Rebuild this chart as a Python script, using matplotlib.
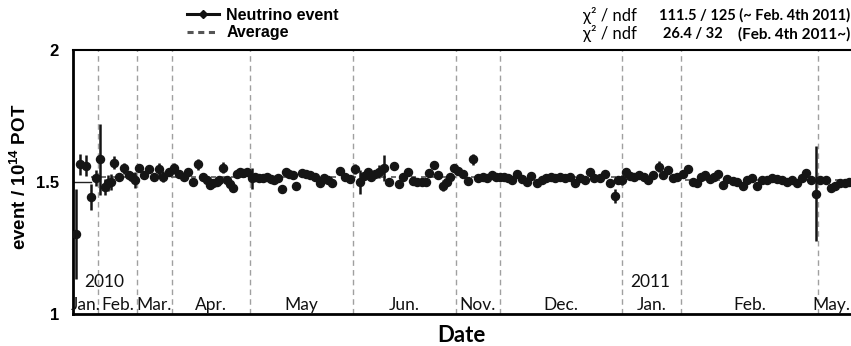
import matplotlib
matplotlib.use('Agg')
import matplotlib.pyplot as plt
from matplotlib.lines import Line2D
from matplotlib.font_manager import FontProperties

plt.rcParams['mathtext.fontset'] = 'custom'
plt.rcParams['mathtext.rm'] = 'Liberation Sans:bold'
plt.rcParams['mathtext.it'] = 'Liberation Sans:bold'
plt.rcParams['mathtext.bf'] = 'Liberation Sans:bold'

# ---- data (x in compressed beam-time units) ----
x = [3, 7, 13, 18, 23, 27, 32, 35, 38, 41,
     46, 51, 56, 59, 62, 66, 71, 76, 81, 86,
     90, 96, 101, 106, 111, 115, 120, 125, 130, 134,
     137, 140, 144, 146, 150, 154, 157, 160, 164, 167,
     170, 174, 179, 182, 186, 190, 194, 198, 201, 205,
     209, 213, 216, 220, 223, 229, 233, 237, 242, 247,
     251, 255, 259, 267, 272, 277, 282, 287, 291, 295,
     298, 302, 306, 311, 316, 321, 326, 330, 335, 340,
     344, 349, 353, 356, 361, 365, 370, 374, 377, 381,
     385, 390, 395, 400, 405, 410, 414, 419, 423, 427,
     431, 435, 439, 444, 449, 454, 458, 464, 469, 473,
     478, 482, 487, 492, 497, 502, 507, 512, 517, 521,
     527, 532, 537, 542, 545, 549, 553, 557, 561, 566,
     571, 575, 580, 586, 590, 595, 600, 604, 610, 615,
     620, 624, 628, 632, 637, 641, 645, 650, 654, 660,
     664, 670, 674, 679, 684, 689, 694, 699, 704, 709,
     714, 719, 724, 729, 733, 738, 743, 747, 753, 758,
     762, 767, 772, 776]

events = [1.303, 1.567, 1.562, 1.444, 1.514, 1.586, 1.482, 1.495, 1.501, 1.573,
          1.520, 1.552, 1.527, 1.520, 1.508, 1.552, 1.527, 1.548, 1.520, 1.548,
          1.520, 1.537, 1.552, 1.530, 1.520, 1.537, 1.501, 1.567, 1.520, 1.508,
          1.489, 1.495, 1.501, 1.508, 1.554, 1.508, 1.491, 1.479, 1.530, 1.537,
          1.533, 1.537, 1.514, 1.520, 1.514, 1.514, 1.520, 1.511, 1.508, 1.516,
          1.473, 1.539, 1.530, 1.527, 1.486, 1.533, 1.530, 1.527, 1.520, 1.495,
          1.514, 1.508, 1.495, 1.542, 1.520, 1.511, 1.549, 1.501, 1.524, 1.537,
          1.520, 1.530, 1.539, 1.554, 1.499, 1.562, 1.491, 1.520, 1.537, 1.504,
          1.501, 1.501, 1.501, 1.533, 1.564, 1.527, 1.486, 1.501, 1.520, 1.552,
          1.542, 1.530, 1.504, 1.586, 1.516, 1.520, 1.514, 1.527, 1.520, 1.520,
          1.520, 1.514, 1.508, 1.530, 1.511, 1.501, 1.524, 1.495, 1.508, 1.516,
          1.520, 1.516, 1.520, 1.516, 1.520, 1.495, 1.514, 1.508, 1.537, 1.514,
          1.516, 1.530, 1.495, 1.447, 1.508, 1.508, 1.539, 1.524, 1.520, 1.527,
          1.520, 1.508, 1.527, 1.558, 1.527, 1.545, 1.514, 1.520, 1.530, 1.549,
          1.501, 1.495, 1.520, 1.527, 1.511, 1.520, 1.530, 1.489, 1.511, 1.504,
          1.501, 1.486, 1.508, 1.516, 1.486, 1.508, 1.508, 1.514, 1.511, 1.508,
          1.501, 1.508, 1.495, 1.514, 1.533, 1.508, 1.455, 1.508, 1.508, 1.479,
          1.486, 1.495, 1.495, 1.501]

errors = [0.17, 0.04, 0.04, 0.05, 0.03, 0.135, 0.03, 0.03, 0.03, 0.025,
          0.015, 0.02, 0.015, 0.015, 0.03, 0.015, 0.015, 0.015, 0.015, 0.025,
          0.02, 0.015, 0.02, 0.015, 0.015, 0.015, 0.015, 0.02, 0.015, 0.012,
          0.012, 0.012, 0.012, 0.012, 0.02, 0.012, 0.012, 0.012, 0.012, 0.012,
          0.012, 0.012, 0.04, 0.012, 0.012, 0.012, 0.012, 0.012, 0.012, 0.012,
          0.012, 0.012, 0.012, 0.012, 0.012, 0.012, 0.012, 0.012, 0.012, 0.012,
          0.012, 0.012, 0.012, 0.012, 0.012, 0.012, 0.02, 0.045, 0.012, 0.012,
          0.012, 0.012, 0.025, 0.05, 0.012, 0.015, 0.012, 0.012, 0.015, 0.012,
          0.012, 0.012, 0.012, 0.012, 0.015, 0.012, 0.02, 0.012, 0.012, 0.012,
          0.012, 0.012, 0.012, 0.02, 0.012, 0.012, 0.012, 0.012, 0.012, 0.012,
          0.012, 0.012, 0.012, 0.012, 0.012, 0.012, 0.012, 0.012, 0.012, 0.012,
          0.012, 0.012, 0.012, 0.012, 0.012, 0.012, 0.012, 0.012, 0.015, 0.012,
          0.012, 0.012, 0.012, 0.025, 0.012, 0.02, 0.012, 0.012, 0.012, 0.012,
          0.012, 0.012, 0.012, 0.02, 0.012, 0.012, 0.012, 0.012, 0.012, 0.012,
          0.012, 0.012, 0.012, 0.012, 0.012, 0.012, 0.012, 0.012, 0.012, 0.012,
          0.012, 0.012, 0.012, 0.012, 0.012, 0.012, 0.012, 0.012, 0.012, 0.012,
          0.012, 0.012, 0.012, 0.012, 0.012, 0.012, 0.18, 0.012, 0.012, 0.012,
          0.012, 0.012, 0.012, 0.012]

month_starts = [0, 25, 64, 99, 177, 280, 383, 427, 549, 608, 745, 778]
month_labels = ['Jan.', 'Feb.', 'Mar.', 'Apr.', 'May', 'Jun.', 'Nov.', 'Dec.',
                'Jan.', 'Feb.', 'May.']
years = [('2010', 31), ('2011', 577)]

split_x = 612            # Feb. 4th 2011
avg_before = 1.518
avg_after = 1.508

# ---- figure ----
W, H = 851, 346
fig = plt.figure(figsize=(W / 100, H / 100), dpi=100)
ax = fig.add_axes([73 / W, 32 / H, 778 / W, 264 / H])
ax.set_xlim(month_starts[0], month_starts[-1])
ax.set_ylim(1, 2)

for b in month_starts[1:-1]:
    ax.axvline(b, color='#a0a0a0', lw=1.0, ls=(0, (4, 3)), zorder=1)

ax.plot([0, 18], [1.5, 1.5], color='#222222', lw=1.0, zorder=2)
ax.hlines(avg_before, 18, split_x, colors='#555555', linestyles=(0, (3, 3)), lw=1.2, zorder=2)
ax.hlines(avg_after, split_x, month_starts[-1], colors='#555555', linestyles=(0, (3, 3)), lw=1.2, zorder=2)

ax.errorbar(x, events, yerr=errors, fmt='o', color='#151515', ms=5.8,
            elinewidth=1.8, capsize=0, zorder=3)

for s in ['left', 'bottom']:
    ax.spines[s].set_linewidth(2.0)
ax.spines['top'].set_linewidth(1.5)
ax.spines['right'].set_visible(False)

arial_b = dict(family='Liberation Sans', weight='bold')
ax.set_yticks([1, 1.5, 2])
ax.set_yticklabels(['1', '1.5', '2'], fontsize=12, **arial_b)
ax.tick_params(axis='y', length=0, pad=10)
ax.set_xticks([])

ax.set_ylabel(r'event / 10$^{14}$ POT', fontsize=13.5, **arial_b)
ax.yaxis.set_label_coords(-0.055, 0.52)

calibri = ['Lato', 'DejaVu Sans']
n_lab = len(month_labels)
for i, lab in enumerate(month_labels):
    if i == n_lab - 1:
        ax.text(month_starts[i + 1] - 1, 1.015, lab, ha='right', va='baseline',
                fontsize=12.5, family=calibri, color='#111111')
    else:
        cx = (month_starts[i] + month_starts[i + 1]) / 2
        ax.text(cx, 1.015, lab, ha='center', va='baseline', fontsize=12.5,
                family=calibri, color='#111111')
for lab, xp in years:
    ax.text(xp, 1.123, lab, ha='center', va='center', fontsize=12.5,
            family=calibri, color='#111111')

fig.text(461 / W, 1 - 335 / H, 'Date', ha='center', va='center', fontsize=16,
         family=calibri, weight='bold')

# legend
handles = [Line2D([], [], color='#111111', marker='D', ms=4.5, lw=2.2),
           Line2D([], [], color='#555555', ls=(0, (2, 1.5)), lw=2.2)]
fig.legend(handles, ['Neutrino event', 'Average'], loc='upper left',
           bbox_to_anchor=(187 / W, 1 - 8 / H), frameon=False,
           prop=FontProperties(family='Liberation Sans', weight='bold', size=11.5),
           handlelength=2.0, labelspacing=0.15, handletextpad=0.45, borderaxespad=0,
           borderpad=0)

# chi2 annotations
fig.text(583 / W, 1 - 15 / H, 'χ² / ndf', ha='left', va='center', fontsize=12,
         family=calibri)
fig.text(583 / W, 1 - 34 / H, 'χ² / ndf', ha='left', va='center', fontsize=12,
         family=calibri)
fig.text(850 / W, 1 - 15 / H, '111.5 / 125 (~ Feb. 4th 2011)', ha='right', va='center',
         fontsize=10.5, family=calibri, weight='bold')
fig.text(663 / W, 1 - 34 / H, '26.4 / 32', ha='left', va='center',
         fontsize=10.5, family=calibri, weight='bold')
fig.text(850 / W, 1 - 34 / H, '(Feb. 4th 2011~)', ha='right', va='center',
         fontsize=11, family=calibri, weight='bold')

fig.savefig('out.png', dpi=100)
